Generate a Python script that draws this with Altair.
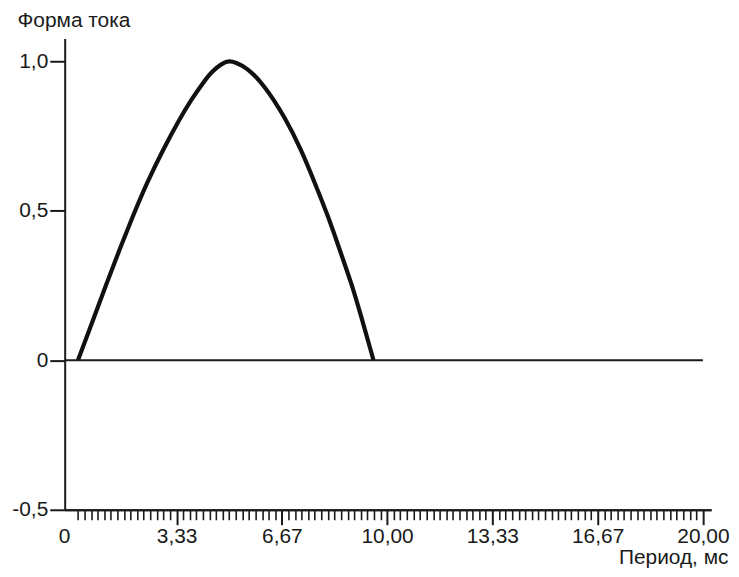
import altair as alt
import pandas as pd

# Curve
t_ms = [0.21, 0.73, 1.12, 1.52, 1.94, 2.38, 2.89, 3.46, 3.78, 4.14, 4.46, 4.80, 5.00, 5.20,
        5.56, 6.09, 6.77, 7.29, 7.72, 8.14, 8.50, 8.87, 9.18, 9.57]
current = [0.0, 0.147, 0.258, 0.369, 0.480, 0.591, 0.702, 0.813, 0.869, 0.924, 0.968, 0.995, 1.002, 0.997,
           0.979, 0.924, 0.813, 0.702, 0.591, 0.480, 0.369, 0.258, 0.147, 0.0]

x_major_values = [10 / 3, 20 / 3, 10.0, 40 / 3, 50 / 3, 20.0]
x_major_labels = ["3,33", "6,67", "10,00", "13,33", "16,67", "20,00"]
y_values = [-0.5, 0.0, 0.5, 1.0]
y_labels = ["-0,5", "0", "0,5", "1,0"]
zero_label = ["0"]

x_domain = [-0.21, 20.26]
y_domain = [-0.5, 1.077]

minor_step = 20 / 96
x_minor_values = [k * minor_step for k in range(1, 96) if k % 16 != 0]


def label_expr(values, labels):
    expr = "''"
    for v, l in reversed(list(zip(values, labels))):
        expr = f"abs(datum.value - ({v})) < 1e-6 ? '{l}' : ({expr})"
    return expr


FONT = "Liberation Sans"
FS = 21
INK = "#1a1a1a"

xs = alt.Scale(domain=x_domain, nice=False, zero=False)
ys = alt.Scale(domain=y_domain, nice=False, zero=False)

df = pd.DataFrame({"t": t_ms, "i": current})

major_x_axis = alt.Axis(
    values=x_major_values, labelExpr=label_expr(x_major_values, x_major_labels),
    orient="bottom", grid=False, tickSize=15, tickWidth=2, tickColor=INK,
    domainColor=INK, domainWidth=2, labelFont=FONT, labelFontSize=FS, labelColor=INK,
    labelBaseline="alphabetic", labelPadding=18, labelFlush=False, labelOverlap=False,
    title="Период, мс", titleFont=FONT, titleFontSize=FS, titleFontWeight="normal",
    titleColor=INK, titleAlign="right", titleBaseline="alphabetic", titleX=667, titleY=54,
    titleAnchor="end",
)

minor_x_axis = alt.Axis(
    values=x_minor_values, orient="bottom", grid=False, labels=False, tickSize=10,
    tickWidth=1.6, tickColor=INK, domainColor=INK, domainWidth=2, title=None,
)

y_axis = alt.Axis(
    values=y_values, labelExpr=label_expr(y_values, y_labels), orient="left", grid=False,
    tickSize=15, tickWidth=2, tickColor=INK, domainColor=INK, domainWidth=2,
    labelFont=FONT, labelFontSize=FS, labelColor=INK, labelPadding=2,
    labelBaseline="middle", labelFlush=False, labelOverlap=False,
    title="Форма тока", titleFont=FONT, titleFontSize=FS, titleFontWeight="normal",
    titleColor=INK, titleAngle=0, titleAlign="left", titleBaseline="alphabetic",
    titleX=-48, titleY=-12,
)

curve = alt.Chart(df).mark_line(color="#111111", strokeWidth=4.2, strokeCap="butt",
                                 interpolate="basis").encode(
    x=alt.X("t:Q", scale=xs, axis=major_x_axis),
    y=alt.Y("i:Q", scale=ys, axis=y_axis),
)

minor = alt.Chart(df).mark_line(opacity=0).encode(
    x=alt.X("t:Q", scale=xs, axis=minor_x_axis),
    y=alt.Y("i:Q", scale=ys, axis=None),
)

zero_df = pd.DataFrame({"x": [x_domain[0]], "x2": [20.0], "y": [0.0]})
zero_line = alt.Chart(zero_df).mark_rule(color=INK, strokeWidth=2).encode(
    x=alt.X("x:Q", scale=xs, axis=None),
    x2="x2:Q",
    y=alt.Y("y:Q", scale=ys, axis=None),
)

zlab_df = pd.DataFrame({"x": [x_domain[0]], "y": [y_domain[0]], "lab": zero_label})
zero_text = alt.Chart(zlab_df).mark_text(font=FONT, fontSize=FS, color=INK, align="center",
                                          baseline="alphabetic", dy=33).encode(
    x=alt.X("x:Q", scale=xs, axis=None),
    y=alt.Y("y:Q", scale=ys, axis=None),
    text="lab:N",
)

chart = alt.layer(curve, minor, zero_line, zero_text).resolve_axis(
    x="independent", y="independent"
).properties(
    width=650, height=474,
    autosize=alt.AutoSizeParams(type="none"),
    padding={"left": 57, "top": 29, "right": 20, "bottom": 60},
    background="white",
).configure_view(stroke=None)

chart.save("out.html", embed_options={"renderer": "svg", "actions": False})
